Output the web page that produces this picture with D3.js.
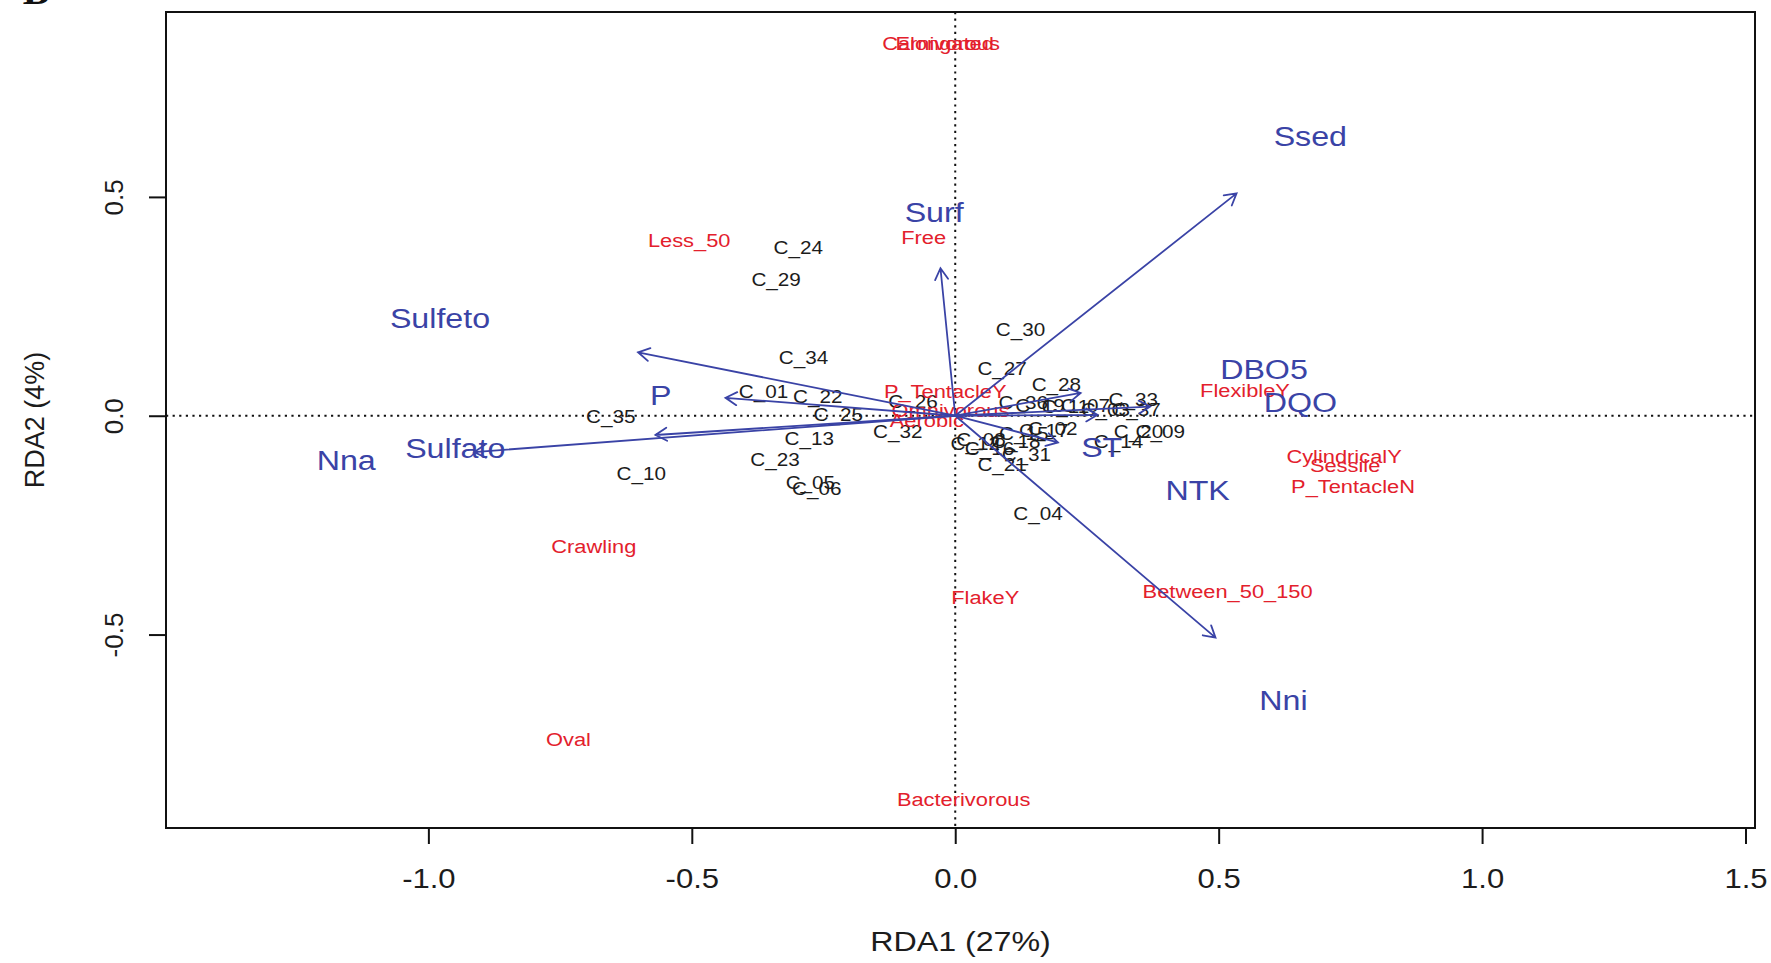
<!DOCTYPE html>
<html>
<head>
<meta charset="utf-8">
<script src="https://cdn.jsdelivr.net/npm/d3@7"></script>
<style>
  body { margin: 0; background: #fff; }
  svg { display: block; }
  text { font-family: "Liberation Sans", Arial, sans-serif; }
</style>
</head>
<body>
<svg id="chart" width="1771" height="963"></svg>
<script>
// ---- axis ticks ----
const xTicks = [-1.0, -0.5, 0.0, 0.5, 1.0, 1.5];
const yTicks = [-0.5, 0.0, 0.5];

// ---- site scores (RDA1, RDA2) ----
const siteNames = ["C_01","C_02","C_03","C_04","C_05","C_06","C_07","C_08","C_09","C_10",
                   "C_11","C_12","C_13","C_14","C_15","C_16","C_17","C_18","C_19","C_20",
                   "C_21","C_22","C_23","C_24","C_25","C_26","C_27","C_28","C_29","C_30",
                   "C_31","C_32","C_33","C_34","C_35","C_36","C_37"];
const siteX = [-0.364, 0.185, 0.285, 0.157, -0.275, -0.263, 0.247, 0.049, 0.389, -0.596,
               0.209, 0.038, -0.277, 0.310, 0.130, 0.065, 0.168, 0.115, 0.161, 0.348,
               0.089, -0.261, -0.342, -0.298, -0.222, -0.080, 0.089, 0.192, -0.340, 0.124,
               0.135, -0.109, 0.338, -0.288, -0.654, 0.129, 0.343];
const siteY = [0.055, -0.030, 0.013, -0.223, -0.152, -0.166, 0.024, -0.055, -0.037, -0.132,
               0.020, -0.063, -0.052, -0.059, -0.040, -0.076, -0.035, -0.060, 0.024, -0.037,
               -0.113, 0.043, -0.101, 0.385, 0.002, 0.032, 0.108, 0.072, 0.310, 0.196,
               -0.090, -0.037, 0.036, 0.133, -0.002, 0.029, 0.013];

// ---- functional trait scores ----
const traitNames = ["Carnivorous","Elongated","Less_50","Free","P_TentacleY","Omnivorous","Aerobic",
                    "FlexibleY","CylindricalY","Sessile","P_TentacleN","Between_50_150","FlakeY",
                    "Crawling","Oval","Bacterivorous"];
const traitX = [-0.027, -0.020, -0.505, -0.060, -0.019, -0.009, -0.054,
                0.550, 0.738, 0.740, 0.755, 0.517, 0.057,
                -0.686, -0.734, 0.016];
const traitY = [0.851, 0.851, 0.401, 0.408, 0.055, 0.013, -0.010,
                0.057, -0.092, -0.113, -0.162, -0.402, -0.414,
                -0.299, -0.740, -0.877];

// ---- environmental variables: arrow tips and label positions ----
const envNames   = ["Ssed","Surf","Sulfeto","P","Sulfato","Nna","DBO5","DQO","ST","NTK","Nni"];
const envArrowX  = [0.534, -0.028, -0.602, -0.436, -0.569, -0.913, 0.238, 0.370, 0.195, 0.270, 0.494];
const envArrowY  = [0.508, 0.337, 0.145, 0.041, -0.044, -0.083, 0.052, 0.021, -0.061, 0.002, -0.507];
const envLabelX  = [0.674, -0.040, -0.978, -0.559, -0.949, -1.156, 0.586, 0.655, 0.278, 0.460, 0.623];
const envLabelY  = [0.639, 0.466, 0.223, 0.047, -0.075, -0.101, 0.107, 0.031, -0.072, -0.170, -0.650];

// ---- layout ----
const plot = { left: 166, right: 1755, top: 12, bottom: 828 };
const stretch = 1.15;
const colBlue = "#3a43a6";
const colRed = "#e3202c";
const colBlack = "#1c1c1c";

const svg = d3.select("#chart");

const x = d3.scaleLinear().domain([-1.498, 1.518]).range([plot.left, plot.right]);
const y = d3.scaleLinear().domain([-0.942, 0.9225]).range([plot.bottom, plot.top]);

// panel letter in the corner
svg.append("text")
  .attr("x", 36).attr("y", 4)
  .attr("text-anchor", "middle")
  .style("font-family", "'Liberation Serif', serif")
  .style("font-weight", "bold")
  .style("font-size", "40px")
  .attr("fill", "#111")
  .text("B");

// reference lines through the origin
const ref = svg.append("g")
  .attr("stroke", "#111")
  .attr("stroke-width", 2)
  .attr("stroke-dasharray", "2.2,4.4");
ref.append("line")
  .attr("x1", plot.left).attr("x2", plot.right)
  .attr("y1", y(0)).attr("y2", y(0));
ref.append("line")
  .attr("x1", x(0)).attr("x2", x(0))
  .attr("y1", plot.top).attr("y2", plot.bottom);

// site labels
svg.append("g")
  .selectAll("text")
  .data(siteNames)
  .join("text")
  .attr("transform", (d, i) => `translate(${x(siteX[i])},${y(siteY[i])}) scale(${stretch},1)`)
  .attr("text-anchor", "middle")
  .attr("dy", "0.35em")
  .attr("fill", colBlack)
  .style("font-size", "18px")
  .text(d => d);

// trait labels
svg.append("g")
  .selectAll("text")
  .data(traitNames)
  .join("text")
  .attr("transform", (d, i) => `translate(${x(traitX[i])},${y(traitY[i])}) scale(${stretch},1)`)
  .attr("text-anchor", "middle")
  .attr("dy", "0.35em")
  .attr("fill", colRed)
  .style("font-size", "19px")
  .text(d => d);

// biplot arrows
const headLen = 13;
const headAng = Math.PI / 6;
const arrows = svg.append("g")
  .attr("fill", "none")
  .attr("stroke", colBlue)
  .attr("stroke-width", 1.8)
  .attr("stroke-linecap", "round");
arrows.selectAll("path")
  .data(envNames)
  .join("path")
  .attr("d", (d, i) => {
    const x0 = x(0), y0 = y(0);
    const x1 = x(envArrowX[i]), y1 = y(envArrowY[i]);
    const a = Math.atan2(y1 - y0, x1 - x0);
    const p = d3.path();
    p.moveTo(x0, y0);
    p.lineTo(x1, y1);
    p.moveTo(x1 - headLen * Math.cos(a - headAng), y1 - headLen * Math.sin(a - headAng));
    p.lineTo(x1, y1);
    p.lineTo(x1 - headLen * Math.cos(a + headAng), y1 - headLen * Math.sin(a + headAng));
    return p.toString();
  });

// environmental variable labels
svg.append("g")
  .selectAll("text")
  .data(envNames)
  .join("text")
  .attr("transform", (d, i) => `translate(${x(envLabelX[i])},${y(envLabelY[i])}) scale(${stretch},1)`)
  .attr("text-anchor", "middle")
  .attr("dy", "0.35em")
  .attr("fill", colBlue)
  .style("font-size", "28px")
  .text(d => d);

// frame
svg.append("rect")
  .attr("x", plot.left).attr("y", plot.top)
  .attr("width", plot.right - plot.left)
  .attr("height", plot.bottom - plot.top)
  .attr("fill", "none")
  .attr("stroke", "#111")
  .attr("stroke-width", 2);

// bottom axis
const gx = svg.append("g")
  .attr("transform", `translate(0,${plot.bottom})`)
  .call(d3.axisBottom(x).tickValues(xTicks).tickSize(16).tickFormat(d => d.toFixed(1)));
gx.select(".domain").remove();
gx.selectAll(".tick line").attr("stroke", "#111").attr("stroke-width", 2);
gx.selectAll(".tick text")
  .attr("y", 60).attr("dy", null)
  .attr("transform", `scale(${stretch},1)`)
  .attr("fill", colBlack)
  .style("font-family", "'Liberation Sans', Arial, sans-serif")
  .style("font-size", "27px");

// left axis
const gy = svg.append("g")
  .attr("transform", `translate(${plot.left},0)`)
  .call(d3.axisLeft(y).tickValues(yTicks).tickSize(17).tickFormat(d => d.toFixed(1)));
gy.select(".domain").remove();
gy.selectAll(".tick line").attr("stroke", "#111").attr("stroke-width", 2);
gy.selectAll(".tick text")
  .attr("x", null).attr("y", null).attr("dy", null)
  .attr("transform", "translate(-43,0) rotate(-90)")
  .attr("text-anchor", "middle")
  .attr("fill", colBlack)
  .style("font-family", "'Liberation Sans', Arial, sans-serif")
  .style("font-size", "26px");

// axis titles
svg.append("text")
  .attr("transform", `translate(${(plot.left + plot.right) / 2},951) scale(${stretch},1)`)
  .attr("text-anchor", "middle")
  .attr("fill", colBlack)
  .style("font-size", "28px")
  .text("RDA1 (27%)");

svg.append("text")
  .attr("transform", `translate(44,${(plot.top + plot.bottom) / 2}) rotate(-90)`)
  .attr("text-anchor", "middle")
  .attr("fill", colBlack)
  .style("font-size", "27px")
  .text("RDA2 (4%)");
</script>
</body>
</html>
